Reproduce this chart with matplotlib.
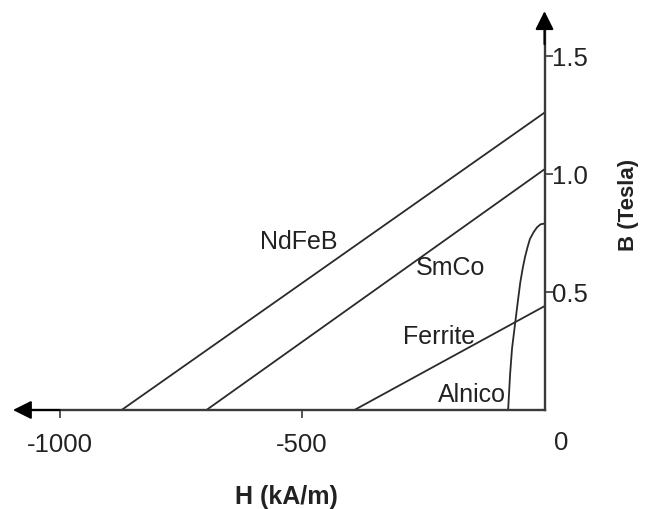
import matplotlib
matplotlib.use('Agg')
import matplotlib.pyplot as plt
import numpy as np

plt.rcParams['font.family'] = ['Liberation Sans', 'DejaVu Sans']

# demagnetisation curves: H in kA/m, B in Tesla
ndfeb_h = [-872, 0]
ndfeb_b = [0.0, 1.26]
smco_h = [-697, 0]
smco_b = [0.0, 1.02]
ferrite_h = [-392, 0]
ferrite_b = [0.0, 0.44]
alnico_h = [-75, -71, -67, -61, -55, -50, -45, -40, -35, -30, -22, -15, -8, 0]
alnico_b = [0.0, 0.15, 0.26, 0.36, 0.46, 0.54, 0.60, 0.65, 0.69, 0.725, 0.755, 0.775, 0.787, 0.79]

names = ['NdFeB', 'SmCo', 'Ferrite', 'Alnico']
label_pos = [(-506, 0.718), (-193, 0.606), (-218, 0.314), (-150, 0.068)]

x_ticks = [-1000, -500]
y_ticks = [0.5, 1.0, 1.5]

fig = plt.figure(figsize=(6.45, 5.1), dpi=100)
ax = fig.add_axes([0, 0, 1, 1])
ax.set_xlim(-1122.7, 207.2)
ax.set_ylim(-0.4195, 1.7415)

axis_col = '#3a3a3a'
line_col = '#2a2a2a'
txt_col = '#222222'

for s in ['top', 'left']:
    ax.spines[s].set_visible(False)
ax.spines['bottom'].set_position(('data', 0))
ax.spines['right'].set_position(('data', 0))
ax.spines['bottom'].set_bounds(-1080, 0)
ax.spines['right'].set_bounds(0, 1.66)
for s in ['bottom', 'right']:
    ax.spines[s].set_color(axis_col)
    ax.spines[s].set_linewidth(1.7)

ax.yaxis.tick_right()
ax.set_xticks(x_ticks)
ax.set_xticklabels([str(v) for v in x_ticks])
ax.set_yticks(y_ticks)
ax.set_yticklabels([f'{v:.1f}' for v in y_ticks])
ax.tick_params(axis='x', direction='out', length=6, width=1.2, color=axis_col,
               labelsize=18.5, labelcolor=txt_col, pad=10)
ax.tick_params(axis='y', direction='out', length=6, width=1.2, color=axis_col,
               labelsize=18.5, labelcolor=txt_col, pad=-0.5)

# arrow heads on the axes
ax.annotate('', xy=(-1096, 0), xytext=(-1000, 0),
            arrowprops=dict(arrowstyle='-|>', mutation_scale=28, color='black',
                            lw=1.5, shrinkA=0, shrinkB=0))
ax.annotate('', xy=(0, 1.69), xytext=(0, 1.55),
            arrowprops=dict(arrowstyle='-|>', mutation_scale=28, color='black',
                            lw=1.5, shrinkA=0, shrinkB=0))

for h, b in [(ndfeb_h, ndfeb_b), (smco_h, smco_b), (ferrite_h, ferrite_b), (alnico_h, alnico_b)]:
    ax.plot(h, b, color=line_col, lw=1.3, solid_capstyle='butt', solid_joinstyle='round')

for name, (x, y) in zip(names, label_pos):
    ax.text(x, y, name, fontsize=18, color=txt_col, ha='center', va='center')

ax.text(34, -0.136, '0', fontsize=18.5, color=txt_col, ha='center', va='center')
ax.text(-533, -0.364, 'H (kA/m)', fontsize=18, fontweight='bold', color=txt_col,
        ha='center', va='center')
ax.text(173, 0.873, 'B (Tesla)', fontsize=16, fontweight='bold', color=txt_col,
        ha='center', va='center', rotation=90)

fig.savefig('out.png', dpi=100)
